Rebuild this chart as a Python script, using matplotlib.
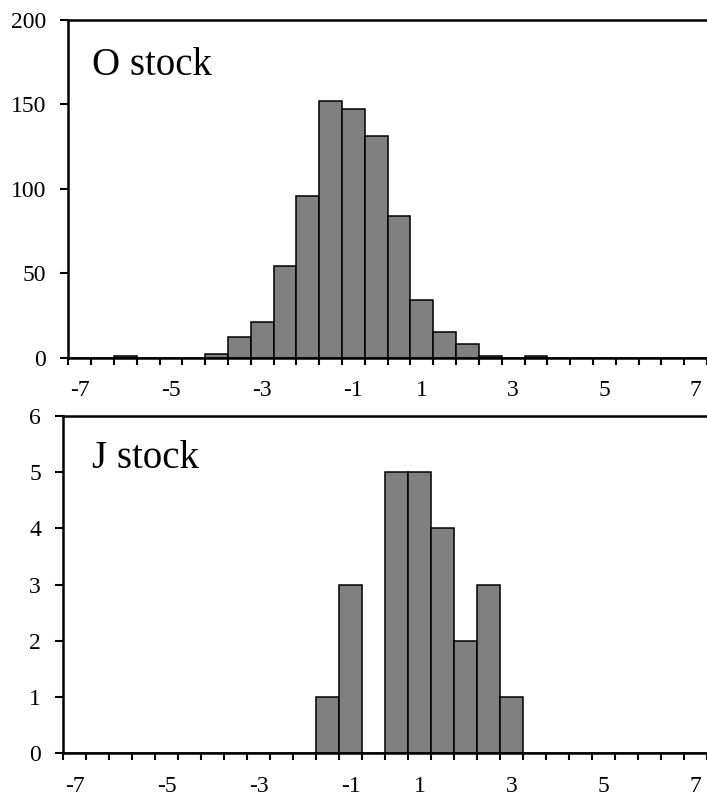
import numpy as np
import matplotlib
matplotlib.use("Agg")
import matplotlib.pyplot as plt
from matplotlib.ticker import FixedLocator, NullFormatter

plt.rcParams["font.family"] = ["Liberation Serif", "DejaVu Serif"]

# histogram bins: 28 classes spanning -7 .. 7
BIN_LO, BIN_HI, N_BINS = -7, 7, 28
O_COUNTS = [0, 0, 1, 0, 0, 0, 2, 12, 21, 54, 96, 152, 147, 131, 84, 34,
            15, 8, 1, 0, 1, 0, 0, 0, 0, 0, 0, 0]
J_COUNTS = [0, 0, 0, 0, 0, 0, 0, 0, 0, 0, 0, 1, 3, 0, 5, 5, 4, 2, 3, 1,
            0, 0, 0, 0, 0, 0, 0, 0]
X_LABELS = [-7, -5, -3, -1, 1, 3, 5, 7]
O_YTICKS = [0, 50, 100, 150, 200]
J_YTICKS = [0, 1, 2, 3, 4, 5, 6]
TITLES = ["O stock", "J stock"]

W, H = 707, 801
fig = plt.figure(figsize=(W / 100, H / 100), dpi=100)


def px_axes(left, top, right, bottom):
    return fig.add_axes([left / W, 1 - bottom / H, (right - left) / W, (bottom - top) / H])


def draw_panel(ax, counts, yticks, title, title_xy):
    centers = np.linspace(BIN_LO, BIN_HI, N_BINS)
    w = centers[1] - centers[0]
    edges = np.append(centers - w / 2, centers[-1] + w / 2)

    ax.bar(centers, counts, width=w, color="#808080", edgecolor="black",
           linewidth=1.1, zorder=2)

    ax.set_xlim(edges[0], edges[-1])
    ax.set_ylim(yticks[0], yticks[-1])

    # labels sit on the class nearest each value, marks on class edges
    label_pos = [centers[np.abs(centers - v).argmin()] for v in X_LABELS]
    ax.set_xticks(label_pos)
    ax.set_xticklabels([str(v) for v in X_LABELS])
    ax.xaxis.set_minor_locator(FixedLocator(edges))
    ax.xaxis.set_minor_formatter(NullFormatter())
    ax.tick_params(axis="x", which="major", length=0, pad=16, labelsize=17)
    ax.tick_params(axis="x", which="minor", direction="out", length=5, width=1.5)

    ax.set_yticks(yticks)
    ax.tick_params(axis="y", direction="out", length=6, width=1.5, pad=10,
                   labelsize=17)

    for side in ("left", "top", "bottom"):
        ax.spines[side].set_linewidth(1.8)
    ax.spines["right"].set_visible(False)

    ax.text(title_xy[0], title_xy[1], title, transform=ax.transAxes,
            fontsize=28, va="baseline", ha="left")


ax_top = px_axes(68.3, 20, 707, 357.5)
draw_panel(ax_top, O_COUNTS, O_YTICKS, TITLES[0], (0.037, 0.837))

ax_bot = px_axes(63.3, 416, 707, 753.3)
draw_panel(ax_bot, J_COUNTS, J_YTICKS, TITLES[1], (0.045, 0.846))

fig.savefig("out.png", dpi=100)
